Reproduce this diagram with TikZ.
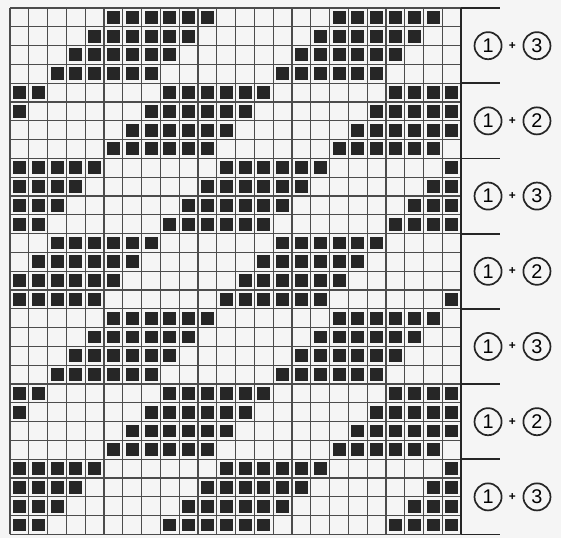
\documentclass[tikz,border=0pt]{standalone}
\usepackage{fontspec}
\setmainfont{Liberation Sans}
\usetikzlibrary{positioning}

\begin{document}
\begin{tikzpicture}[
    x=0.5cm, y=0.5cm,
    gridline/.style={draw=black!70, line width=0.9pt},
    rim/.style={draw=black!85, line width=1.4pt},
    stitch/.style={fill=black!85},
    num/.style={
        circle,
        draw=black!85,
        line width=1.3pt,
        minimum size=0.72cm,
        inner sep=0pt,
        font=\fontsize{15}{15}\selectfont
    },
    plus/.style={
        font=\bfseries\small,
        inner sep=0pt
    }
]

% Paper
\fill[black!4] (-0.53,-0.21) rectangle (29.31,28.43);
\useasboundingbox (-0.53,-0.21) rectangle (29.31,28.43);

% Dark stitches
\foreach \r in {0,...,27} {
    \foreach \c in {0,...,23} {
        \pgfmathtruncatemacro{\d}{mod(\c - 5 - 3*int(\r/4) + mod(\r,4) + 120, 12)}
        \ifnum\d<6
            \fill[stitch] (\c+0.16,27-\r+0.16) rectangle (\c+0.85,28-\r-0.15);
        \fi
    }
}

% Grid
\foreach \c in {0,...,23}
    \draw[gridline] (\c,0) -- (\c,28);
\foreach \r in {0,...,28}
    \draw[gridline] (0,\r) -- (24,\r);
\draw[rim] (24,0) -- (24,28);

% Band rules
\foreach \b in {0,...,7}
    \draw[rim] (24,28-4*\b) -- (26.06,28-4*\b);

% Colour labels
\foreach \b/\k in {0/3,1/2,2/3,3/2,4/3,5/2,6/3} {
    \node[num] (one\b) at (25.43,26-4*\b) {1};
    \node[plus] (plus\b) at (26.72,26-4*\b) {+};
    \node[num] (col\b) at (28.03,26-4*\b) {\k};
}

\end{tikzpicture}
\end{document}
